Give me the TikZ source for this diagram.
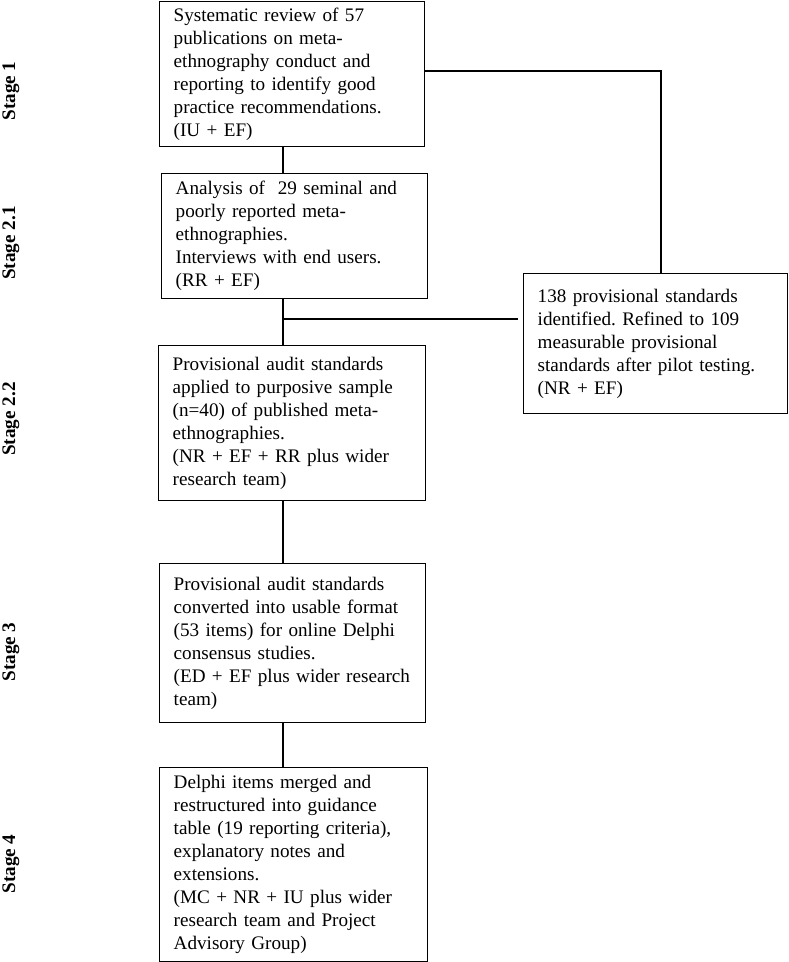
\documentclass[tikz,border=0pt]{standalone}
\usepackage{fontspec}
\setmainfont{Liberation Serif}
\usepackage{tikz}
\usetikzlibrary{positioning,calc}

\tikzset{
  stagebox/.style={draw, line width=0.8pt, anchor=north west, align=left,
    inner xsep=0.28cm, inner ysep=0pt, font=\fontsize{10.9}{13.1}\selectfont},
  stagelabel/.style={rotate=90, font=\fontsize{10.9}{13}\selectfont\bfseries},
  link/.style={line width=0.8pt}
}
\frenchspacing

\begin{document}
\begin{tikzpicture}[x=0.02cm, y=-0.02cm]
  \useasboundingbox (0,0) rectangle (788,962);

  % Nodes
  \node[stagebox, minimum width=5.3cm, minimum height=2.9cm, text width=4.74cm] (s1) at (159,1)
    {Systematic review of 57\\ publications on meta-\\ ethnography conduct and\\ reporting to identify good\\ practice recommendations.\\ (IU + EF)};
  \node[stagebox, minimum width=5.32cm, minimum height=2.5cm, text width=4.76cm] (s21) at (161,173)
    {Analysis of \ 29 seminal and\\ poorly reported meta-\\ ethnographies.\\ Interviews with end users.\\ (RR + EF)};
  \node[stagebox, minimum width=5.34cm, minimum height=3.1cm, text width=4.78cm] (s22) at (158,345)
    {Provisional audit standards\\ applied to purposive sample\\ (n=40) of published meta-\\ ethnographies.\\ (NR + EF + RR plus wider\\ research team)\\[4pt]};
  \node[stagebox, minimum width=5.32cm, minimum height=3.18cm, text width=4.76cm] (s3) at (159,563)
    {Provisional audit standards\\ converted into usable format\\ (53 items) for online Delphi\\ consensus studies.\\ (ED + EF plus wider research\\ team)};
  \node[stagebox, minimum width=5.36cm, minimum height=3.88cm, text width=4.8cm] (s4) at (159,767)
    {Delphi items merged and\\ restructured into guidance\\ table (19 reporting criteria),\\ explanatory notes and\\ extensions.\\ (MC + NR + IU plus wider\\ research team and Project\\ Advisory Group)};
  \node[stagebox, minimum width=5.28cm, minimum height=2.8cm, text width=4.72cm] (prov) at (523,273)
    {138 provisional standards\\ identified. Refined to 109\\ measurable provisional\\ standards after pilot testing.\\ (NR + EF)\\[12pt]};

  % Stage labels
  \node[stagelabel] (l1) at (11,91) {Stage 1};
  \node[stagelabel] (l21) at (11,243) {Stage 2.1};
  \node[stagelabel] (l22) at (11,419) {Stage 2.2};
  \node[stagelabel] (l3) at (11,652) {Stage 3};
  \node[stagelabel] (l4) at (11,864) {Stage 4};

  % Links
  \coordinate (spine) at (283,0);
  \coordinate (jn) at (283,319);
  \coordinate (turn) at (661,71);
  \draw[link] (s1.south -| spine) -- (s21.north -| spine);
  \draw[link] (s21.south -| spine) -- (s22.north -| spine);
  \draw[link] (s22.south -| spine) -- (s3.north -| spine);
  \draw[link] (s3.south -| spine) -- (s4.north -| spine);
  \draw[link] (s1.east |- turn) -- (turn) -- (prov.north -| turn);
  \draw[link] (jn) -- ([xshift=-0.1cm]prov.west |- jn);
\end{tikzpicture}
\end{document}
